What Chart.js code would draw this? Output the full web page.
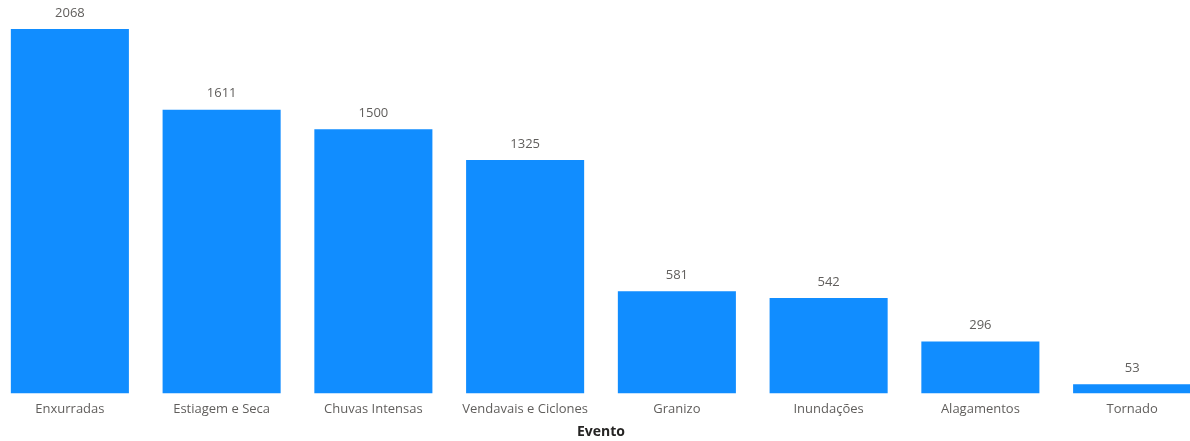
<!DOCTYPE html>
<html><head><meta charset="utf-8">
<script src="https://cdn.jsdelivr.net/npm/chart.js@4.4.1/dist/chart.umd.min.js"></script>
<style>
html,body{margin:0;padding:0;background:#fff;overflow:hidden;width:1190px;height:441px;}
#wrap{position:absolute;left:-6px;top:0;width:1214px;height:441px;}
</style></head>
<body>
<div id="wrap"><canvas id="c" width="1214" height="441"></canvas></div>
<script>
const categories = ["Enxurradas","Estiagem e Seca","Chuvas Intensas","Vendavais e Ciclones","Granizo","Inundações","Alagamentos","Tornado"];
const values = [2068,1611,1500,1325,581,542,296,53];
const axisTitle = "Evento";
const yMax = 2233;

const labelPlugin = {
  id:'vals',
  afterDatasetsDraw(chart){
    const ctx = chart.ctx;
    const meta = chart.getDatasetMeta(0);
    ctx.save();
    ctx.font = '13px "Open Sans", "Noto Sans", sans-serif';
    ctx.fillStyle = '#605E5C';
    ctx.textAlign = 'center';
    ctx.textBaseline = 'middle';
    meta.data.forEach((bar,i)=>{
      ctx.fillText(String(values[i]), bar.x, bar.y - 16);
    });
    ctx.restore();
  }
};

new Chart(document.getElementById('c'), {
  type:'bar',
  data:{labels:categories, datasets:[{data:values, backgroundColor:'#118DFF', borderWidth:0, barPercentage:0.778, categoryPercentage:1}]},
  options:{
    responsive:false, animation:false,
    layout:{padding:0},
    plugins:{legend:{display:false}, tooltip:{enabled:false}},
    scales:{
      y:{display:false, min:0, max:yMax},
      x:{
        grid:{display:false, drawTicks:false},
        border:{display:false},
        ticks:{color:'#605E5C', font:{family:'"Open Sans", "Noto Sans", sans-serif', size:13}, padding:8, maxRotation:0, autoSkip:false},
        title:{display:true, text:axisTitle, color:'#252423', font:{family:'"Open Sans", "Noto Sans", sans-serif', size:14, weight:'bold'}, padding:{top:-2,bottom:1}}
      }
    }
  },
  plugins:[labelPlugin]
});
</script>
</body></html>
